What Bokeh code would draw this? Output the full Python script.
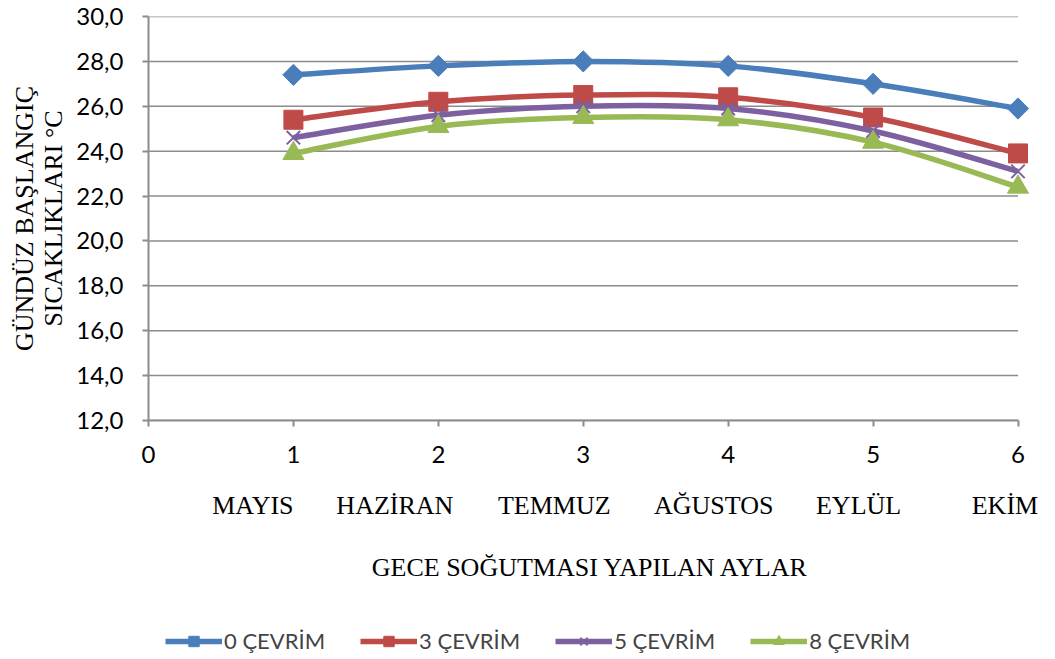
import numpy as np
from bokeh.plotting import figure
from bokeh.layouts import column
from bokeh.models import FixedTicker, LinearAxis, Legend, LegendItem, Range1d, ColumnDataSource
from bokeh.embed import file_html
from bokeh.resources import INLINE

# ---- data ----
months = ["MAYIS", "HAZİRAN", "TEMMUZ", "AĞUSTOS", "EYLÜL", "EKİM"]
x_vals = [1, 2, 3, 4, 5, 6]
series_names = ["0 ÇEVRİM", "3 ÇEVRİM", "5 ÇEVRİM", "8 ÇEVRİM"]
s0 = [27.4, 27.8, 28.0, 27.8, 27.0, 25.9]
s3 = [25.4, 26.2, 26.5, 26.4, 25.5, 23.9]
s5 = [24.6, 25.6, 26.0, 25.9, 24.9, 23.1]
s8 = [23.9, 25.1, 25.5, 25.4, 24.4, 22.4]
y_ticks = [12, 14, 16, 18, 20, 22, 24, 26, 28, 30]
y_tick_labels = ["12,0", "14,0", "16,0", "18,0", "20,0", "22,0", "24,0", "26,0", "28,0", "30,0"]
x_ticks = [0, 1, 2, 3, 4, 5, 6]
x_tick_labels = ["0", "1", "2", "3", "4", "5", "6"]

# ---- layout / style ----
month_label_pos = [0.72, 1.70, 2.80, 3.90, 4.90, 5.91]
X_PAD = 0.1  # room so the last markers are not clipped
colors = ["#4A7EBB", "#BE4B48", "#7D60A0", "#98B954"]
markers = ["square", "square", "x", "triangle"]
angles = [np.pi / 4, 0, 0, 0]
msizes = [15, 19, 19, 21]
GRAY = "#8C8C8C"
TICK_FONT = "Lato"
SERIF = "Liberation Serif"
W = 1047

p = figure(frame_width=884, frame_height=404, output_backend="svg", toolbar_location=None,
           x_range=Range1d(x_ticks[0], x_ticks[-1] + X_PAD), y_range=Range1d(y_ticks[0], y_ticks[-1]),
           min_border_left=148, min_border_right=15, min_border_top=16, min_border_bottom=190)
p.outline_line_color = None
p.background_fill_color = "white"
p.border_fill_color = "white"

# y axis
p.yaxis.ticker = FixedTicker(ticks=y_ticks)
p.yaxis.major_label_overrides = {t: l for t, l in zip(y_ticks, y_tick_labels)}
p.yaxis.axis_line_color = GRAY
p.yaxis.axis_line_width = 2
p.yaxis.major_tick_line_color = GRAY
p.yaxis.major_tick_line_width = 2
p.yaxis.major_tick_out = 6
p.yaxis.major_tick_in = 0
p.yaxis.minor_tick_line_color = None
p.yaxis.major_label_text_font = TICK_FONT
p.yaxis.major_label_text_font_size = "24px"
p.yaxis.major_label_text_color = "black"
p.yaxis.major_label_standoff = 19
p.yaxis.axis_label = "GÜNDÜZ BAŞLANGIÇ\nSICAKLIKLARI °C"
p.yaxis.axis_label_text_font = SERIF
p.yaxis.axis_label_text_font_size = "26px"
p.yaxis.axis_label_text_line_height = 1.0
p.yaxis.axis_label_text_font_style = "normal"
p.yaxis.axis_label_text_color = "black"
p.yaxis.axis_label_standoff = 5

# x axis (numbers)
p.xaxis.ticker = FixedTicker(ticks=x_ticks)
p.xaxis.bounds = (x_ticks[0], x_ticks[-1])
p.xaxis.major_label_overrides = {t: l for t, l in zip(x_ticks, x_tick_labels)}
p.xaxis.axis_line_color = GRAY
p.xaxis.axis_line_width = 2
p.xaxis.major_tick_line_color = GRAY
p.xaxis.major_tick_line_width = 2
p.xaxis.major_tick_out = 6
p.xaxis.major_tick_in = 0
p.xaxis.minor_tick_line_color = None
p.xaxis.major_label_text_font = TICK_FONT
p.xaxis.major_label_text_font_size = "24px"
p.xaxis.major_label_text_color = "black"
p.xaxis.major_label_standoff = 19

# x axis (months + title)
ax2 = LinearAxis(ticker=FixedTicker(ticks=month_label_pos),
                 major_label_overrides={t: m for t, m in zip(month_label_pos, months)})
ax2.axis_line_color = None
ax2.major_tick_line_color = None
ax2.minor_tick_line_color = None
ax2.major_label_text_font = SERIF
ax2.major_label_text_font_size = "26px"
ax2.major_label_text_color = "black"
ax2.major_label_standoff = 19
ax2.axis_label = "GECE SOĞUTMASI YAPILAN AYLAR"
ax2.axis_label_text_font = SERIF
ax2.axis_label_text_font_size = "26px"
ax2.axis_label_text_font_style = "normal"
ax2.axis_label_text_color = "black"
ax2.axis_label_standoff = 30
p.add_layout(ax2, "below")

# grid: horizontal lines spanning only the 0..6 category span
p.xgrid.visible = False
p.ygrid.visible = False
p.segment(x0=[x_ticks[0]] * len(y_ticks), x1=[x_ticks[-1]] * len(y_ticks), y0=y_ticks, y1=y_ticks,
          line_color=GRAY, line_width=1.5, level="underlay")

# smooth curves (Excel-style Catmull-Rom bezier through the data points)
def bezier_source(xs, ys):
    xs = np.asarray(xs, float)
    ys = np.asarray(ys, float)
    n = len(xs)
    xp = np.concatenate([[xs[0]], xs, [xs[-1]]])
    yp = np.concatenate([[ys[0]], ys, [ys[-1]]])
    x0, y0 = xs[:-1], ys[:-1]
    x1, y1 = xs[1:], ys[1:]
    cx0 = x0 + (xp[2:n + 1] - xp[0:n - 1]) / 6
    cy0 = y0 + (yp[2:n + 1] - yp[0:n - 1]) / 6
    cx1 = x1 - (xp[3:n + 2] - xp[1:n]) / 6
    cy1 = y1 - (yp[3:n + 2] - yp[1:n]) / 6
    return ColumnDataSource(dict(x0=x0, y0=y0, x1=x1, y1=y1, cx0=cx0, cy0=cy0, cx1=cx1, cy1=cy1))

# legend strip: a small figure under the chart whose ranges hide its copies of the series
q = figure(width=W, height=49, output_backend="svg", toolbar_location=None,
           x_axis_location=None, y_axis_location=None, min_border=0,
           x_range=Range1d(0, 1), y_range=Range1d(0, 1))
q.outline_line_color = None
q.xgrid.visible = False
q.ygrid.visible = False
q.border_fill_color = "white"

items = []
for name, ys, c, m, ms, ang in zip(series_names, [s0, s3, s5, s8], colors, markers, msizes, angles):
    src = bezier_source(x_vals, ys)
    p.bezier(x0="x0", y0="y0", x1="x1", y1="y1", cx0="cx0", cy0="cy0", cx1="cx1", cy1="cy1",
             source=src, line_color=c, line_width=5.5)
    if m == "x":
        p.scatter(x_vals, ys, marker=m, size=ms, line_color=c, line_width=2)
        lm = q.scatter(x_vals, ys, marker=m, size=ms, line_color=c, line_width=2)
    else:
        p.scatter(x_vals, ys, marker=m, size=ms, angle=ang, fill_color=c, line_color=c)
        lm = q.scatter(x_vals, ys, marker=m, size=ms, angle=ang, fill_color=c, line_color=c)
    ll = q.line(x_vals, ys, line_color=c, line_width=5.5)
    items.append(LegendItem(label=name, renderers=[ll, lm]))

legend = Legend(items=items, orientation="horizontal", location=(17, 5),
                label_text_font=TICK_FONT, label_text_font_size="22px",
                glyph_width=57, glyph_height=26, spacing=35, padding=0, margin=0,
                border_line_color=None, background_fill_alpha=0, label_standoff=2)
q.add_layout(legend, "center")

layout = column(p, q, spacing=0)
open("out.html", "w").write(file_html(layout, INLINE))
